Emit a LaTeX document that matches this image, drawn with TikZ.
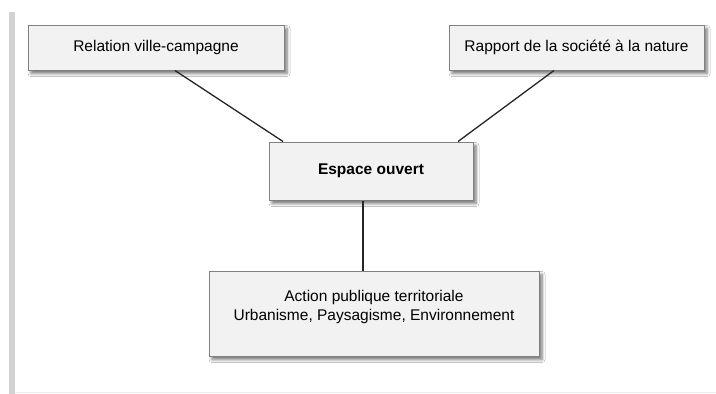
\documentclass[tikz,border=0pt]{standalone}
\usepackage{fontspec}
\setmainfont{Liberation Sans}
\usetikzlibrary{shadows.blur}
\definecolor{boxfill}{HTML}{F2F2F2}
\definecolor{boxline}{HTML}{808080}
\definecolor{barcol}{HTML}{D2D2D2}
\tikzset{
  box/.style={draw=boxline, line width=1pt, fill=boxfill, rectangle, inner sep=0pt,
    font=\fontsize{15.5}{19}\selectfont, align=center,
    blur shadow={shadow xshift=3pt, shadow yshift=-3.5pt, shadow blur steps=6, shadow blur radius=3pt, shadow opacity=55}},
  plain/.style={inner sep=0pt, font=\fontsize{15.5}{19}\selectfont, align=center},
  link/.style={draw=black!85, line width=1.3pt}
}
\begin{document}
\begin{tikzpicture}[x=1pt,y=-1pt]
\useasboundingbox[fill=white] (0,0) rectangle (716,394);
\fill[barcol] (9,12) rectangle (15,394);
\draw[black!7, line width=1pt] (15,392) -- (716,392);

\node[box, minimum width=256pt, minimum height=45pt] (b1) at (156,47.5) {Relation ville-campagne};
\node[box, minimum width=255pt, minimum height=45pt] (b2) at (576.5,47.5) {Rapport de la société à la nature};
\node[box, minimum width=204pt, minimum height=58pt, font=\fontsize{15.5}{19}\selectfont\bfseries] (b3) at (371,171) {Espace ouvert};
\node[box, minimum width=330pt, minimum height=85pt] (b4) at (374,313.5) {};
\node[plain] (t4) at (374,306.5) {Action publique territoriale\\Urbanisme, Paysagisme, Environnement};

\draw[link] ([xshift=19pt]b1.south) -- ([xshift=-88pt]b3.north);
\draw[link] ([xshift=-22.5pt]b2.south) -- ([xshift=87pt]b3.north);
\draw[link] ([xshift=-8pt]b3.south) -- ([xshift=-11pt]b4.north);
\end{tikzpicture}
\end{document}
